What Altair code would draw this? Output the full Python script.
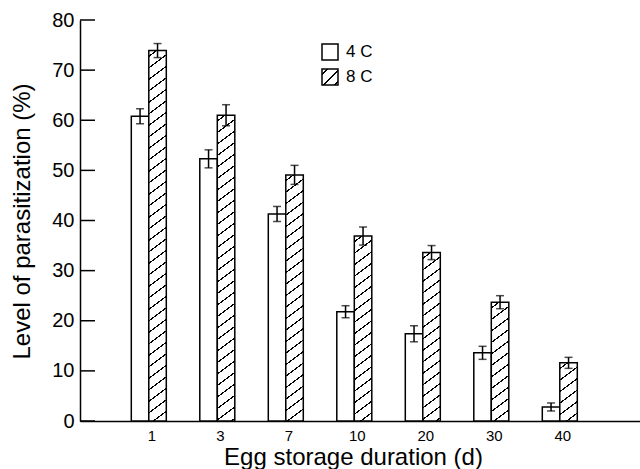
import altair as alt
import pandas as pd

days = ["1", "3", "7", "10", "20", "30", "40"]
series = ["4 C", "8 C"]
vals_4c = [60.8, 52.3, 41.3, 21.8, 17.4, 13.6, 2.8]
vals_8c = [73.9, 61.0, 49.1, 36.9, 33.6, 23.7, 11.6]
err_4c = [1.5, 1.8, 1.5, 1.2, 1.6, 1.3, 0.8]
err_8c = [1.4, 2.1, 1.9, 1.8, 1.4, 1.3, 1.1]
y_ticks = [0, 10, 20, 30, 40, 50, 60, 70, 80]

W, H = 560, 401
YMAX = 80
STEP = 68.5
BAR_W = 17.5
FONT = "Liberation Sans"

rows = []
for i, d in enumerate(days):
    rows.append({"day": d, "series": series[0], "v": vals_4c[i], "lo": vals_4c[i] - err_4c[i], "hi": vals_4c[i] + err_4c[i]})
    rows.append({"day": d, "series": series[1], "v": vals_8c[i], "lo": vals_8c[i] - err_8c[i], "hi": vals_8c[i] + err_8c[i]})
df = pd.DataFrame(rows)


def hatch(w, h, P=11.5, T=1.6, m=0.75):
    L = m * w + h
    k = L / (m * m * w * w + h * h)
    stops = [(0.0, "white")]
    c = P / 2.0
    while c - T / 2.0 < L:
        a = max(c - T / 2.0, 0.0) / L
        b = min(c + T / 2.0, L) / L
        stops += [(a, "white"), (a, "black"), (b, "black"), (b, "white")]
        c += P
    stops.append((1.0, "white"))
    return alt.LinearGradient(
        gradient="linear", x1=0, y1=0, x2=k * m * w, y2=k * h,
        stops=[alt.GradientStop(offset=o, color=col) for o, col in stops],
    )


n = len(days)
p_inner = 1 - 2 * BAR_W / STEP
p_outer = (W / STEP - n + p_inner) / 2

x_enc = alt.X(
    "day:N",
    sort=days,
    scale=alt.Scale(domain=days, paddingInner=p_inner, paddingOuter=p_outer, align=0.45),
    axis=alt.Axis(
        title="Egg storage duration (d)", ticks=False, labelAngle=0,
        labelFontSize=15, labelPadding=7, labelOffset=3, labelFont=FONT, labelColor="black",
        titleFontSize=24, titleFont=FONT, titleFontWeight="normal", titleColor="black",
        titleX=273, titleY=43, titleBaseline="alphabetic", titleAlign="center",
        domainColor="black", domainWidth=1.5,
    ),
)
xo_enc = alt.XOffset("series:N", scale=alt.Scale(domain=series, paddingInner=0, paddingOuter=0))
y_scale = alt.Scale(domain=[0, YMAX], nice=False, zero=True)
y_axis = alt.Axis(
    title="Level of parasitization (%)", values=y_ticks, ticks=False, grid=False,
    labelFontSize=20, labelPadding=6, labelFont=FONT, labelColor="black",
    titleFontSize=24, titleFont=FONT, titleFontWeight="normal", titleColor="black",
    titleAngle=270, titleX=-51, titleY=201, titleBaseline="alphabetic", titleAlign="center",
    domainColor="black", domainWidth=1.5,
)
y_enc = alt.Y("v:Q", scale=y_scale, axis=y_axis)

base = alt.Chart(df)

white = base.transform_filter(alt.datum.series == series[0]).mark_bar(
    fill="white", stroke="black", strokeWidth=1.5
).encode(x=x_enc, xOffset=xo_enc, y=y_enc)

layers = [white]
for i, d in enumerate(days):
    h_px = vals_8c[i] * H / YMAX
    sub = df[(df["day"] == d) & (df["series"] == series[1])]
    layers.append(
        alt.Chart(sub).mark_bar(fill=hatch(BAR_W, h_px), stroke="black", strokeWidth=1.5)
        .encode(x=x_enc, xOffset=xo_enc, y=y_enc)
    )

err_line = base.mark_rule(color="black", strokeWidth=1.5).encode(
    x=x_enc, xOffset=xo_enc, y=alt.Y("lo:Q", scale=y_scale, axis=y_axis), y2="hi:Q"
)
cap_lo = base.mark_tick(color="black", thickness=1.5, size=8).encode(
    x=x_enc, xOffset=xo_enc, y=alt.Y("lo:Q", scale=y_scale, axis=y_axis)
)
cap_hi = base.mark_tick(color="black", thickness=1.5, size=8).encode(
    x=x_enc, xOffset=xo_enc, y=alt.Y("hi:Q", scale=y_scale, axis=y_axis)
)
layers += [err_line, cap_lo, cap_hi]

tick_df = pd.DataFrame({"v": y_ticks})
inner_ticks = alt.Chart(tick_df).mark_rule(color="black", strokeWidth=1.5).encode(
    y=alt.Y("v:Q", scale=y_scale, axis=y_axis), x=alt.value(0), x2=alt.value(15)
)
layers.append(inner_ticks)

# legend
leg_df = pd.DataFrame({"series": series})
leg_box1 = alt.Chart(leg_df).transform_filter(alt.datum.series == series[0]).mark_rect(
    fill="white", stroke="black", strokeWidth=1.5
).encode(x=alt.value(242), x2=alt.value(258), y=alt.value(24), y2=alt.value(40))
leg_box2 = alt.Chart(leg_df).transform_filter(alt.datum.series == series[1]).mark_rect(
    fill=hatch(16, 16, P=11.5, T=1.6, m=1.0), stroke="black", strokeWidth=1.5
).encode(x=alt.value(242), x2=alt.value(258), y=alt.value(49), y2=alt.value(65))
leg_t1 = alt.Chart(leg_df).transform_filter(alt.datum.series == series[0]).mark_text(
    align="left", baseline="middle", fontSize=17, font=FONT, color="black"
).encode(x=alt.value(266), y=alt.value(32), text="series:N")
leg_t2 = alt.Chart(leg_df).transform_filter(alt.datum.series == series[1]).mark_text(
    align="left", baseline="middle", fontSize=17, font=FONT, color="black"
).encode(x=alt.value(266), y=alt.value(57), text="series:N")
layers += [leg_box1, leg_box2, leg_t1, leg_t2]

chart = alt.layer(*layers).properties(
    width=W, height=H,
    autosize=alt.AutoSizeParams(type="none"),
    padding={"left": 80, "top": 20, "right": 0, "bottom": 48},
    background="white",
).configure_view(stroke=None)

chart.save("out.html", embed_options={"renderer": "svg", "actions": False})
